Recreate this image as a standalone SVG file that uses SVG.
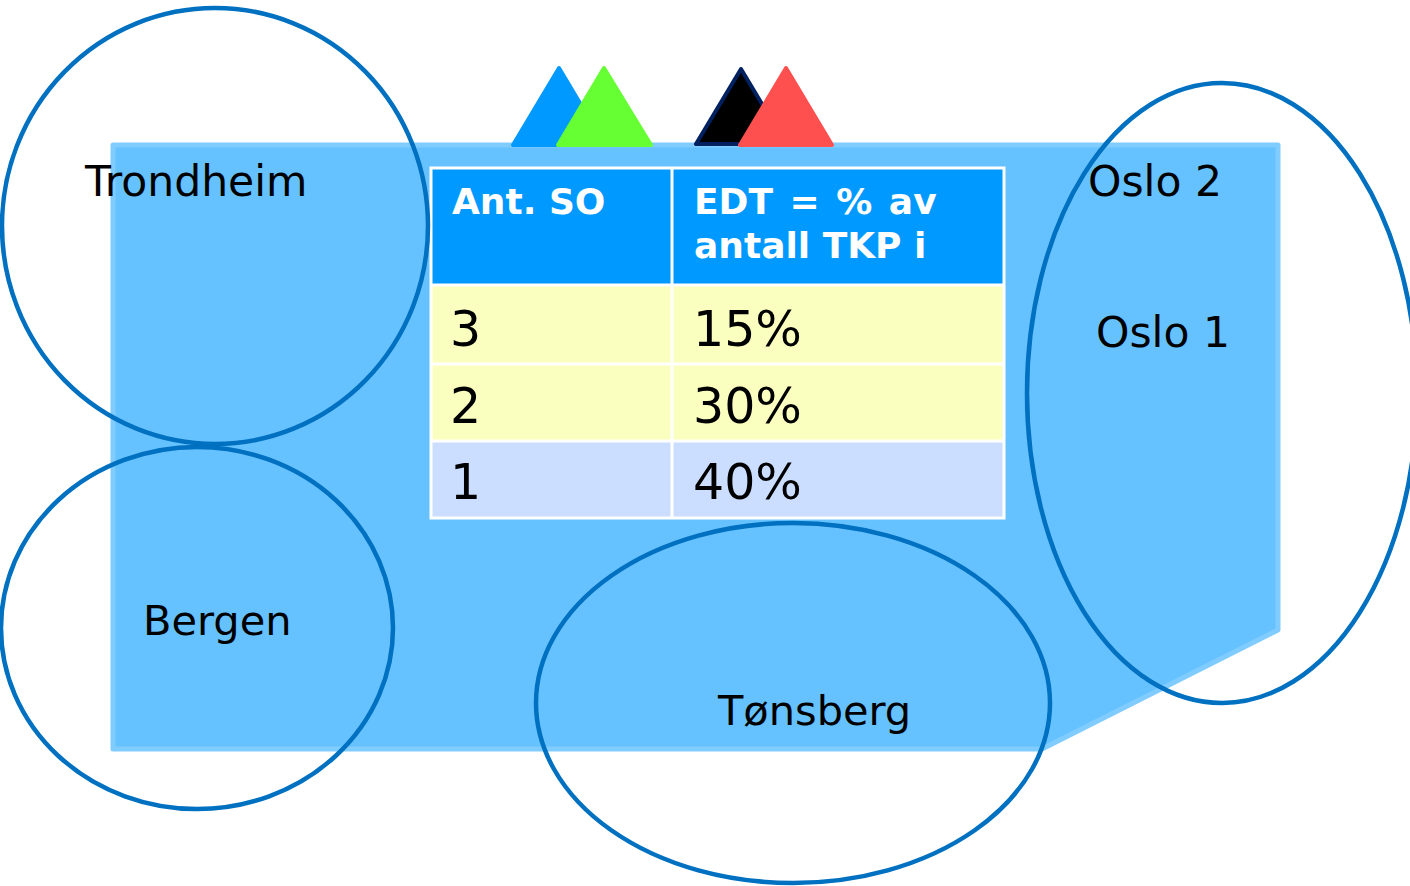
<svg xmlns="http://www.w3.org/2000/svg" width="1410" height="886" viewBox="0 0 1410 886">
<style>
.lbl{font-family:"DejaVu Sans","Verdana",sans-serif;font-size:42.5px;fill:#000}
.sm{font-size:41.5px}
.hd{font-family:"DejaVu Sans","Verdana",sans-serif;font-size:36px;font-weight:bold;fill:#fff}
.ws{word-spacing:4px}
.cell{font-family:"DejaVu Sans","Verdana",sans-serif;font-size:49px;fill:#000}
.ell{fill:none;stroke:#0070C0;stroke-width:4.5}
.tri{stroke-linejoin:round;stroke-width:4}
.grid{stroke:#fff;stroke-width:3}
</style>
<rect width="1410" height="886" fill="#fff"/>
<g id="area">
<polygon points="113,145 1278,145 1278,630 1042,749 113,749" fill="#66C2FF" stroke="#80CCFF" stroke-width="5" stroke-linejoin="round"/>
</g>
<g id="triangles">
<polygon class="tri" points="559,68 513,145 605,145" fill="#0099FF" stroke="#0099FF"/>
<polygon class="tri" points="604,68 558,145 651,145" fill="#66FF33" stroke="#66FF33"/>
<polygon class="tri" points="741,69 696,144 786,144" fill="#000" stroke="#002060"/>
<polygon class="tri" points="786,68 740,145 832,145" fill="#FF5050" stroke="#FF5050"/>
</g>
<g id="table">
<rect x="430" y="167" width="575" height="118" fill="#0099FF"/>
<rect x="430" y="285" width="575" height="156" fill="#FAFFBF"/>
<rect x="430" y="441" width="575" height="78" fill="#CCDEFF"/>
<g class="grid">
<rect x="431" y="168" width="573" height="350" fill="none"/>
<line x1="672" y1="167" x2="672" y2="519"/>
<line x1="430" y1="285" x2="1005" y2="285"/>
<line x1="430" y1="364" x2="1005" y2="364"/>
<line x1="430" y1="441" x2="1005" y2="441"/>
</g>
<text class="hd" x="452" y="214">Ant. SO</text>
<text class="hd ws" x="694" y="214">EDT = % av</text>
<text class="hd" x="694" y="258">antall TKP i</text>
<text class="cell" x="450" y="346">3</text>
<text class="cell" x="693" y="346">15%</text>
<text class="cell" x="450" y="423">2</text>
<text class="cell" x="693" y="423">30%</text>
<text class="cell" x="450" y="499">1</text>
<text class="cell" x="693" y="499">40%</text>
</g>
<g id="trondheim">
<ellipse class="ell" cx="215" cy="226" rx="213" ry="218"/>
<text class="lbl" x="85" y="196">Trondheim</text>
</g>
<g id="bergen">
<ellipse class="ell" cx="197" cy="628" rx="196" ry="181"/>
<text class="lbl sm" x="143" y="635">Bergen</text>
</g>
<g id="tonsberg">
<ellipse class="ell" cx="793" cy="703" rx="257" ry="180"/>
<text class="lbl sm" x="718" y="725">Tønsberg</text>
</g>
<g id="oslo">
<ellipse class="ell" cx="1222" cy="393" rx="195" ry="310"/>
<text class="lbl" x="1088" y="196">Oslo 2</text>
<text class="lbl" x="1096" y="347">Oslo 1</text>
</g>
<g id="connectors"/>
</svg>
